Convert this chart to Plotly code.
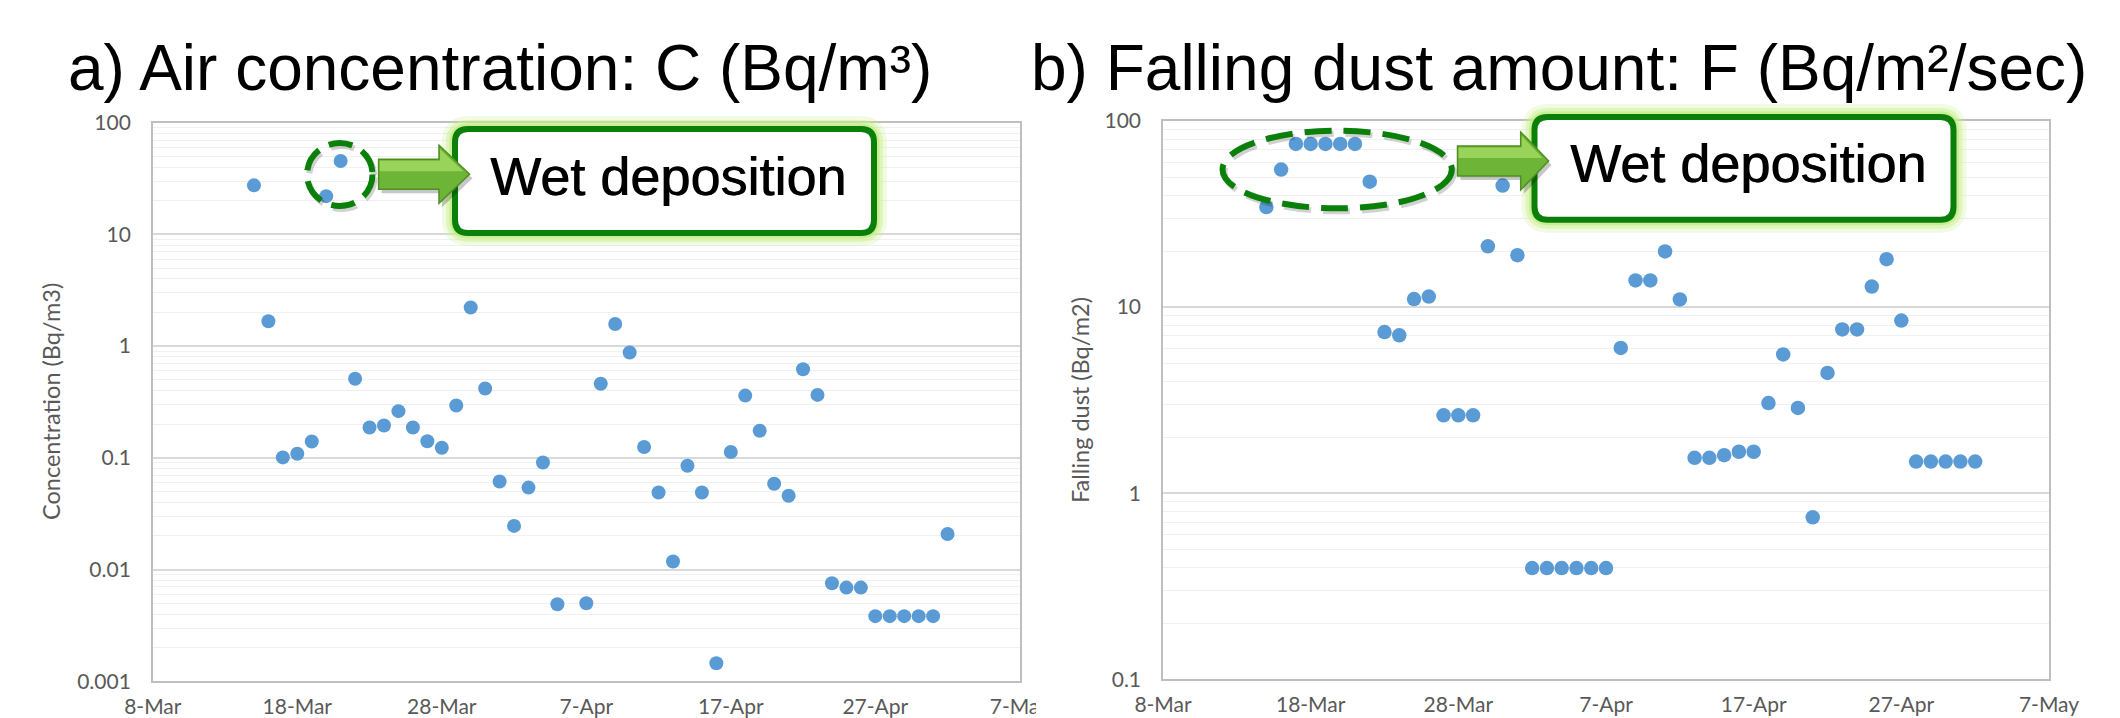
import plotly.graph_objects as go

# ---------------- data ----------------
air_dates = ["2011-03-15", "2011-03-16", "2011-03-17", "2011-03-18", "2011-03-19", "2011-03-20",
             "2011-03-21", "2011-03-22", "2011-03-23", "2011-03-24", "2011-03-25", "2011-03-26",
             "2011-03-27", "2011-03-28", "2011-03-29", "2011-03-30", "2011-03-31", "2011-04-01",
             "2011-04-02", "2011-04-03", "2011-04-04", "2011-04-05", "2011-04-07", "2011-04-08",
             "2011-04-09", "2011-04-10", "2011-04-11", "2011-04-12", "2011-04-13", "2011-04-14",
             "2011-04-15", "2011-04-16", "2011-04-17", "2011-04-18", "2011-04-19", "2011-04-20",
             "2011-04-21", "2011-04-22", "2011-04-23", "2011-04-24", "2011-04-25", "2011-04-26",
             "2011-04-27", "2011-04-28", "2011-04-29", "2011-04-30", "2011-05-01", "2011-05-02"]
air_conc = [27.5, 1.67, 0.101, 0.109, 0.14, 22.0,
            45.4, 0.51, 0.187, 0.195, 0.262, 0.187,
            0.141, 0.123, 0.294, 2.22, 0.418, 0.0614,
            0.0246, 0.0542, 0.0908, 0.0049, 0.005, 0.46,
            1.58, 0.877, 0.125, 0.049, 0.0118, 0.085,
            0.049, 0.00145, 0.113, 0.361, 0.175, 0.0586,
            0.0458, 0.622, 0.366, 0.00755, 0.0069, 0.0069,
            0.00383, 0.00383, 0.00383, 0.00383, 0.00383, 0.0208]

dust_dates = ["2011-03-15", "2011-03-16", "2011-03-17", "2011-03-18", "2011-03-19", "2011-03-20",
              "2011-03-21", "2011-03-22", "2011-03-23", "2011-03-24", "2011-03-25", "2011-03-26",
              "2011-03-27", "2011-03-28", "2011-03-29", "2011-03-30", "2011-03-31", "2011-04-01",
              "2011-04-02", "2011-04-03", "2011-04-04", "2011-04-05", "2011-04-06", "2011-04-07",
              "2011-04-08", "2011-04-09", "2011-04-10", "2011-04-11", "2011-04-12", "2011-04-13",
              "2011-04-14", "2011-04-15", "2011-04-16", "2011-04-17", "2011-04-18", "2011-04-19",
              "2011-04-20", "2011-04-21", "2011-04-22", "2011-04-23", "2011-04-24", "2011-04-25",
              "2011-04-26", "2011-04-27", "2011-04-28", "2011-04-29", "2011-04-30", "2011-05-01",
              "2011-05-02"]
dust_fall = [34.5, 54.8, 75.3, 75.3, 75.3, 75.3,
             75.3, 47.2, 7.34, 7.05, 11.05, 11.4,
             2.62, 2.62, 2.62, 21.2, 45.0, 19.0,
             0.396, 0.396, 0.396, 0.396, 0.396, 0.396,
             6.03, 13.9, 13.9, 19.9, 11.0, 1.55,
             1.55, 1.60, 1.67, 1.67, 3.05, 5.57,
             2.87, 0.742, 4.43, 7.59, 7.59, 12.9,
             18.1, 8.47, 1.48, 1.48, 1.48, 1.48,
             1.48]

x_tick_dates = ["2011-03-08", "2011-03-18", "2011-03-28", "2011-04-07", "2011-04-17", "2011-04-27", "2011-05-07"]
x_tick_labels = ["8-Mar", "18-Mar", "28-Mar", "7-Apr", "17-Apr", "27-Apr", "7-May"]
air_y_ticks = [0.001, 0.01, 0.1, 1, 10, 100]
air_y_labels = ["0.001", "0.01", "0.1", "1", "10", "100"]
dust_y_ticks = [0.1, 1, 10, 100]
dust_y_labels = ["0.1", "1", "10", "100"]

title_a = "a) Air concentration: C (Bq/m³)"
title_b = "b) Falling dust amount: F (Bq/m²/sec)"
air_axis_title = "Concentration (Bq/m3)"
dust_axis_title = "Falling dust (Bq/m2)"
callout_text = "Wet deposition"

# ---------------- geometry helpers ----------------
# page is 2120x718; the html body adds an 8px margin, so the figure itself
# starts at page pixel (8, 8)
PAGE_W, PAGE_H, OFF = 2120, 718, 8
W, H = PAGE_W - OFF, PAGE_H - OFF


def fx(p):
    return (p - OFF) / W


def fy(p):
    return 1 - (p - OFF) / H


def minor_vals(lo, hi):
    return [k * 10.0 ** e for e in range(lo, hi) for k in range(2, 10)]


def rrect(x0, y0, x1, y1, r):
    pts = [
        ("M", [(x0 + r, y0)]), ("L", [(x1 - r, y0)]), ("Q", [(x1, y0), (x1, y0 + r)]),
        ("L", [(x1, y1 - r)]), ("Q", [(x1, y1), (x1 - r, y1)]), ("L", [(x0 + r, y1)]),
        ("Q", [(x0, y1), (x0, y1 - r)]), ("L", [(x0, y0 + r)]), ("Q", [(x0, y0), (x0 + r, y0)]),
    ]
    s = ""
    for cmd, ps in pts:
        s += cmd + " ".join(f"{fx(a):.5f},{fy(b):.5f}" for a, b in ps) + " "
    return s + "Z"


def poly(points):
    return "M" + " L".join(f"{fx(a):.5f},{fy(b):.5f}" for a, b in points) + " Z"


def arrow_pts(xt, xh, xtip, yc, bh, hh, dx=0, dy=0):
    return [(xt + dx, yc - bh + dy), (xh + dx, yc - bh + dy), (xh + dx, yc - hh + dy),
            (xtip + dx, yc + dy), (xh + dx, yc + hh + dy), (xh + dx, yc + bh + dy),
            (xt + dx, yc + bh + dy)]


GREEN = "#0A800A"
BLUE = "#5B9BD5"
GRID = "#D9D9D9"
MINOR = "#F0F0F0"
AXC = "#BFBFBF"
TICKC = "#595959"
TICKFONT = dict(family="Lato, Carlito, Calibri, sans-serif", size=21, color=TICKC)

fig = go.Figure()
fig.add_trace(go.Scatter(x=air_dates, y=air_conc, mode="markers", xaxis="x", yaxis="y",
                         marker=dict(size=14, color=BLUE, line=dict(width=0)), hoverinfo="x+y"))
fig.add_trace(go.Scatter(x=dust_dates, y=dust_fall, mode="markers", xaxis="x2", yaxis="y2",
                         marker=dict(size=14.5, color=BLUE, line=dict(width=0)), hoverinfo="x+y"))


def xaxis(domain, anchor):
    return dict(domain=domain, anchor=anchor, type="date", range=["2011-03-08", "2011-05-07"],
                automargin=False,
                tickmode="array", tickvals=x_tick_dates, ticktext=x_tick_labels,
                showgrid=False, zeroline=False, showline=True, linecolor=AXC, linewidth=1.5,
                mirror=True, ticks="", tickfont=TICKFONT, ticklabelstandoff=6)


def yaxis(domain, anchor, rng, tv, tt):
    return dict(domain=domain, anchor=anchor, type="log", range=rng, automargin=False,
                tickmode="array", tickvals=tv, ticktext=tt,
                showgrid=True, gridcolor=GRID, gridwidth=1.5,
                minor=dict(tickmode="array", tickvals=minor_vals(rng[0], rng[1]), showgrid=True,
                           gridcolor=MINOR, gridwidth=1.2, ticks=""),
                zeroline=False, showline=True, linecolor=AXC, linewidth=1.5, mirror=True,
                ticks="", tickfont=TICKFONT, ticklabelstandoff=16)


shapes = []
annotations = []


def callout(mark_kind, mark_box, arrow, box, text_xy):
    # dashed mark around the wet-deposition points
    x0, y0, x1, y1 = mark_box
    dash = "24px,11px" if mark_kind == "circle" else "27px,12px"
    shapes.append(dict(type="circle", xref="paper", yref="paper", layer="above",
                       x0=fx(x0 + 2), x1=fx(x1 + 2), y0=fy(y1 + 3), y1=fy(y0 + 3),
                       line=dict(color="rgba(0,0,0,0.18)", width=6, dash=dash)))
    shapes.append(dict(type="circle", xref="paper", yref="paper", layer="above",
                       x0=fx(x0), x1=fx(x1), y0=fy(y1), y1=fy(y0),
                       line=dict(color=GREEN, width=6, dash=dash)))
    # text box with glow
    bx0, by0, bx1, by1 = box
    for w, c in [(26, "rgba(200,240,140,0.25)"), (18, "rgba(200,240,140,0.45)"), (11, "rgba(195,235,130,0.7)")]:
        shapes.append(dict(type="path", xref="paper", yref="paper", layer="above",
                           path=rrect(bx0, by0, bx1, by1, 13), line=dict(color=c, width=w)))
    shapes.append(dict(type="path", xref="paper", yref="paper", layer="above",
                       path=rrect(bx0, by0, bx1, by1, 13), fillcolor="white",
                       line=dict(color=GREEN, width=6)))
    # block arrow
    xt, xh, xtip, yc, bh, hh = arrow
    shapes.append(dict(type="path", xref="paper", yref="paper", layer="above",
                       path=poly(arrow_pts(xt, xh, xtip, yc, bh, hh, 3, 4)),
                       fillcolor="rgba(0,0,0,0.22)", line=dict(width=0)))
    shapes.append(dict(type="path", xref="paper", yref="paper", layer="above",
                       path=poly(arrow_pts(xt, xh, xtip, yc, bh, hh)),
                       fillcolor="#6DB536", line=dict(color="#4E8F22", width=1.5)))
    shapes.append(dict(type="path", xref="paper", yref="paper", layer="above",
                       path=poly([(xt + 1, yc - bh + 1.5), (xh + 1, yc - bh + 1.5), (xh + 1, yc - hh + 4),
                                  (xtip - 6, yc - 3), (xt + 1, yc - 3)]),
                       fillcolor="rgba(190,235,120,0.55)", line=dict(width=0)))
    annotations.append(dict(text=callout_text, xref="paper", yref="paper", showarrow=False,
                            x=fx(text_xy[0]), y=fy(text_xy[1]), xanchor="center", yanchor="middle",
                            font=dict(family="Liberation Sans, Arial, sans-serif", size=54, color="black",
                                      shadow="0.8px 0px 0px #000")))


callout("circle", (307, 143, 372.5, 206), (378.6, 439, 469.6, 174.3, 15, 29), (455, 129, 874, 233), (668, 176))
callout("ellipse", (1222.5, 130.7, 1451.8, 208.3), (1457.5, 1520.7, 1548.6, 161, 15, 29), (1534.5, 117, 1953.5, 219.7), (1747.5, 162.5))

# right-hand slide border
shapes.append(dict(type="rect", xref="paper", yref="paper", layer="above",
                   x0=fx(2113), x1=1, y0=0, y1=1, fillcolor="#007F00", line=dict(width=0)))
# right panel overlapping the end of the left panel's last date label
shapes.append(dict(type="rect", xref="paper", yref="paper", layer="above",
                   x0=fx(1036), x1=fx(1064), y0=0, y1=fy(692), fillcolor="white", line=dict(width=0)))

TITLEFONT = dict(family="Liberation Sans, Arial, sans-serif", size=64, color="black")
annotations.append(dict(text=title_a, xref="paper", yref="paper", showarrow=False,
                        x=fx(66), y=fy(106), xanchor="left", yanchor="bottom", font=TITLEFONT))
annotations.append(dict(text=title_b, xref="paper", yref="paper", showarrow=False,
                        x=fx(1029), y=fy(106), xanchor="left", yanchor="bottom", font=TITLEFONT))
AXTFONT = dict(family="Lato, Carlito, Calibri, sans-serif", size=23.5, color=TICKC)
annotations.append(dict(text=air_axis_title, xref="paper", yref="paper", showarrow=False, textangle=-90,
                        x=fx(51), y=fy(402), xanchor="center", yanchor="middle", font=AXTFONT))
annotations.append(dict(text=dust_axis_title, xref="paper", yref="paper", showarrow=False, textangle=-90,
                        x=fx(1080), y=fy(400), xanchor="center", yanchor="middle", font=AXTFONT))

fig.update_layout(
    template="none",
    width=W, height=H, margin=dict(l=0, r=0, t=0, b=0, pad=0, autoexpand=False),
    paper_bgcolor="white", plot_bgcolor="white", showlegend=False,
    xaxis=xaxis([fx(152.8), fx(1019.8)], "y"),
    yaxis=yaxis([fy(681.3), fy(122.7)], "x", [-3, 2], air_y_ticks, air_y_labels),
    xaxis2=xaxis([fx(1163), fx(2049)], "y2"),
    yaxis2=yaxis([fy(679.3), fy(121)], "x2", [-1, 2], dust_y_ticks, dust_y_labels),
    shapes=shapes, annotations=annotations,
)

fig.write_html("out.html")
